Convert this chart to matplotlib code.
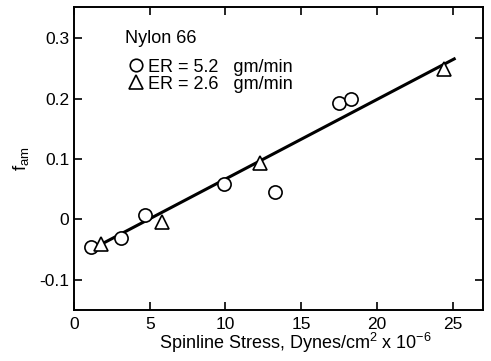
import matplotlib.pyplot as plt
import matplotlib.lines as mlines

plt.rcParams['font.family'] = ['Liberation Sans', 'DejaVu Sans']
plt.rcParams['mathtext.fontset'] = 'custom'
plt.rcParams['mathtext.rm'] = 'Liberation Sans'
plt.rcParams['mathtext.it'] = 'Liberation Sans'

# ER = 5.2 gm/min (circles)
stress_52 = [1.1, 3.1, 4.7, 9.9, 13.3, 17.5, 18.3]
fam_52 = [-0.045, -0.030, 0.007, 0.058, 0.045, 0.193, 0.199]

# ER = 2.6 gm/min (triangles)
stress_26 = [1.8, 5.8, 12.3, 24.4]
fam_26 = [-0.041, -0.004, 0.094, 0.249]

# fitted line
fit_x = [1.5, 25.1]
fit_y = [-0.045, 0.266]

xticks = [0, 5, 10, 15, 20, 25]
yticks = [-0.1, 0, 0.1, 0.2, 0.3]
ytick_labels = ['-0.1', '0', '0.1', '0.2', '0.3']

fig = plt.figure(figsize=(4.91, 3.61), dpi=100)
ax = fig.add_axes([0.1507, 0.1413, 0.833, 0.8393])

ax.plot(fit_x, fit_y, color='black', lw=2.2, zorder=2)
ax.plot(stress_52, fam_52, 'o', ms=9.5, mfc='white', mec='black', mew=1.2, zorder=3)
ax.plot(stress_26, fam_26, '^', ms=10, mfc='white', mec='black', mew=1.2, zorder=3)

ax.set_xlim(0, 27)
ax.set_ylim(-0.15, 0.352)
ax.set_xticks(xticks)
ax.set_yticks(yticks)
ax.set_yticklabels(ytick_labels)
ax.tick_params(direction='in', length=6, width=1.2, labelsize=12.5,
               top=True, right=True, color='black')
ax.tick_params(axis='x', pad=5)
for s in ax.spines.values():
    s.set_linewidth(1.4)

ax.set_xlabel(r'Spinline Stress, Dynes/cm$^{2}$ x 10$^{-6}$', fontsize=13)
ax.xaxis.set_label_coords(0.542, -0.068, transform=ax.transAxes)
ax.xaxis.label.set_va('top')
ax.set_ylabel(r'f$_{am}$', fontsize=13.5, labelpad=6)

# legend block
ax.text(0.125, 0.895, 'Nylon 66', transform=ax.transAxes, fontsize=13,
        ha='left', va='center')
h1 = mlines.Line2D([], [], ls='none', marker='o', ms=9, mfc='white', mec='black', mew=1.2)
h2 = mlines.Line2D([], [], ls='none', marker='^', ms=10, mfc='white', mec='black', mew=1.2)
ax.legend([h1, h2], ['ER = 5.2   gm/min', 'ER = 2.6   gm/min'],
          loc='upper left', bbox_to_anchor=(0.132, 0.83), frameon=False,
          fontsize=13, handletextpad=0.2, handlelength=0.9,
          labelspacing=0.0, borderaxespad=0, borderpad=0)

fig.savefig('out.png', dpi=100)
